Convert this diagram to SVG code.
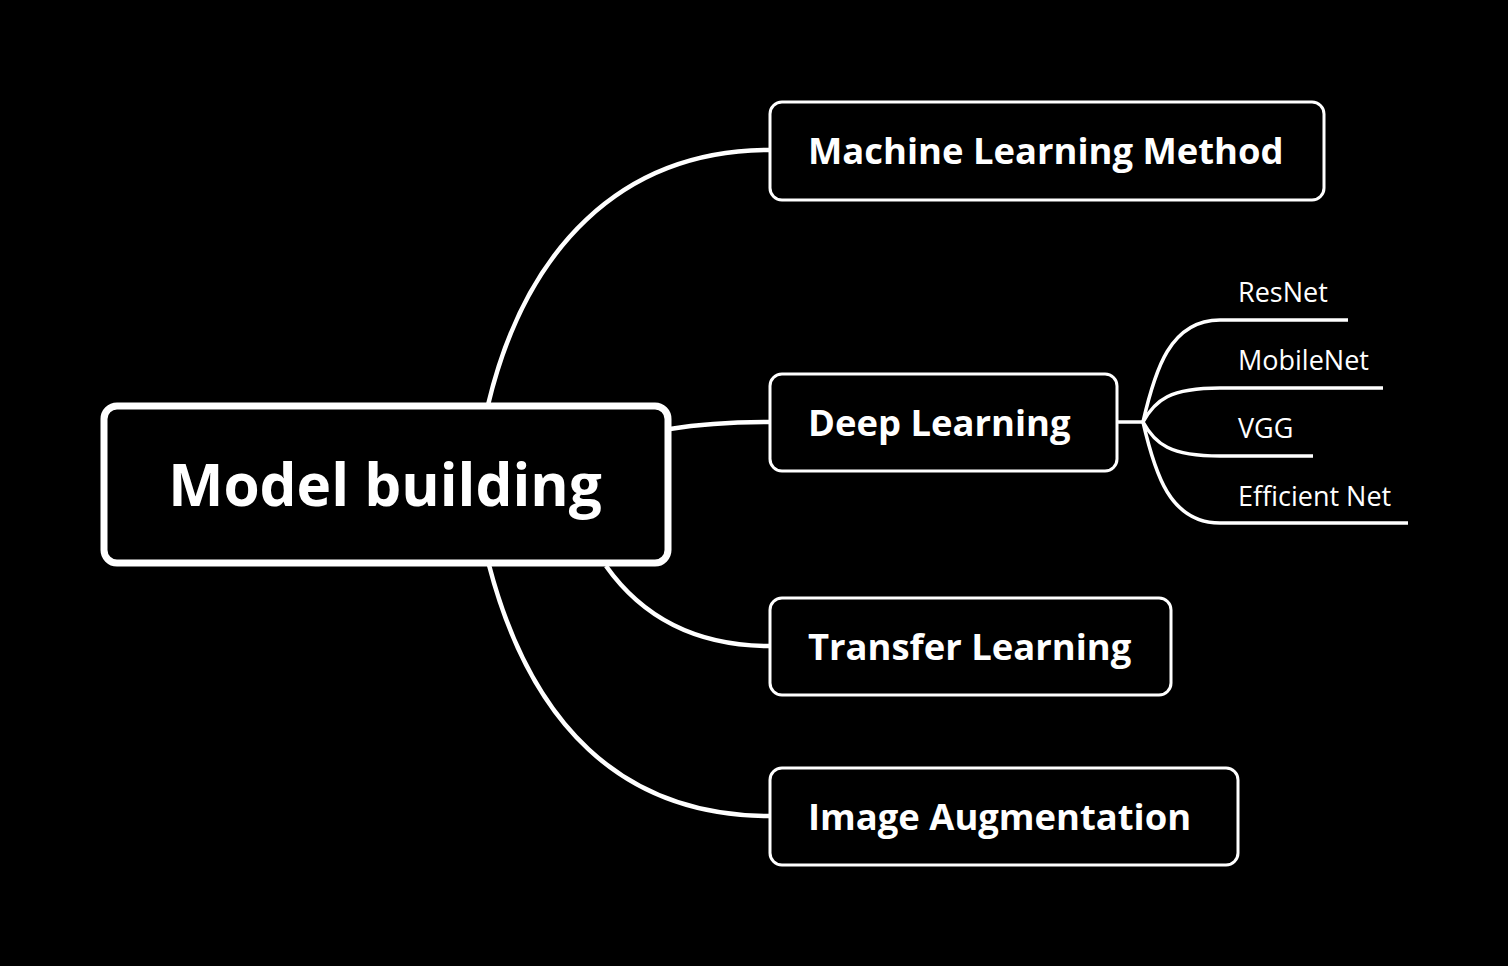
<svg xmlns="http://www.w3.org/2000/svg" width="1508" height="966" viewBox="0 0 1508 966">
<style>
.bg{fill:#000}
.main{fill:#000;stroke:#fff;stroke-width:7}
.node{fill:#000;stroke:#fff;stroke-width:3}
.line{fill:none;stroke:#fff;stroke-width:4.5;stroke-linecap:butt}
.sub{fill:none;stroke:#fff;stroke-width:3.5}
text{fill:#fff;font-family:"Open Sans","Noto Sans",sans-serif}
.t0{font-size:58.5px;font-weight:700}
.t1{font-size:36.4px;font-weight:700}
.t2{font-size:27px;font-weight:400}
</style>
<rect class="bg" x="0" y="0" width="1508" height="966"/>
<g id="connectors">
<path class="line" d="M488,405 C525,250 620,150 770,150"/>
<path class="line" d="M670,429 C700,424 730,422 770,422"/>
<path class="line" d="M606,566 C650,628 710,646 770,646"/>
<path class="line" d="M489,565 C530,722 620,816 770,816"/>
<path class="sub" d="M1117,422 H1143"/>
<path class="sub" d="M1143,422 C1155,370 1170,320 1220,320 H1348"/>
<path class="sub" d="M1143,422 C1155,400 1170,388 1220,388 H1383"/>
<path class="sub" d="M1143,422 C1155,444 1170,456 1220,456 H1313"/>
<path class="sub" d="M1143,422 C1155,474 1170,523 1220,523 H1408"/>
</g>
<g id="node-main">
<rect class="main" x="104" y="406" width="564" height="157" rx="13"/>
<text class="t0" x="385" y="506" text-anchor="middle">Model building</text>
</g>
<g id="node-ml">
<rect class="node" x="770" y="102" width="554" height="98" rx="12"/>
<text class="t1" x="808" y="164">Machine Learning Method</text>
</g>
<g id="node-dl">
<rect class="node" x="770" y="374" width="347" height="97" rx="12"/>
<text class="t1" x="808" y="436">Deep Learning</text>
</g>
<g id="node-tl">
<rect class="node" x="770" y="598" width="401" height="97" rx="12"/>
<text class="t1" x="808" y="660">Transfer Learning</text>
</g>
<g id="node-ia">
<rect class="node" x="770" y="768" width="468" height="97" rx="12"/>
<text class="t1" x="808" y="830">Image Augmentation</text>
</g>
<g id="node-resnet"><text class="t2" x="1238" y="302">ResNet</text></g>
<g id="node-mobilenet"><text class="t2" x="1238" y="370">MobileNet</text></g>
<g id="node-vgg"><text class="t2" x="1238" y="438">VGG</text></g>
<g id="node-efficientnet"><text class="t2" x="1238" y="506">Efficient Net</text></g>
</svg>
